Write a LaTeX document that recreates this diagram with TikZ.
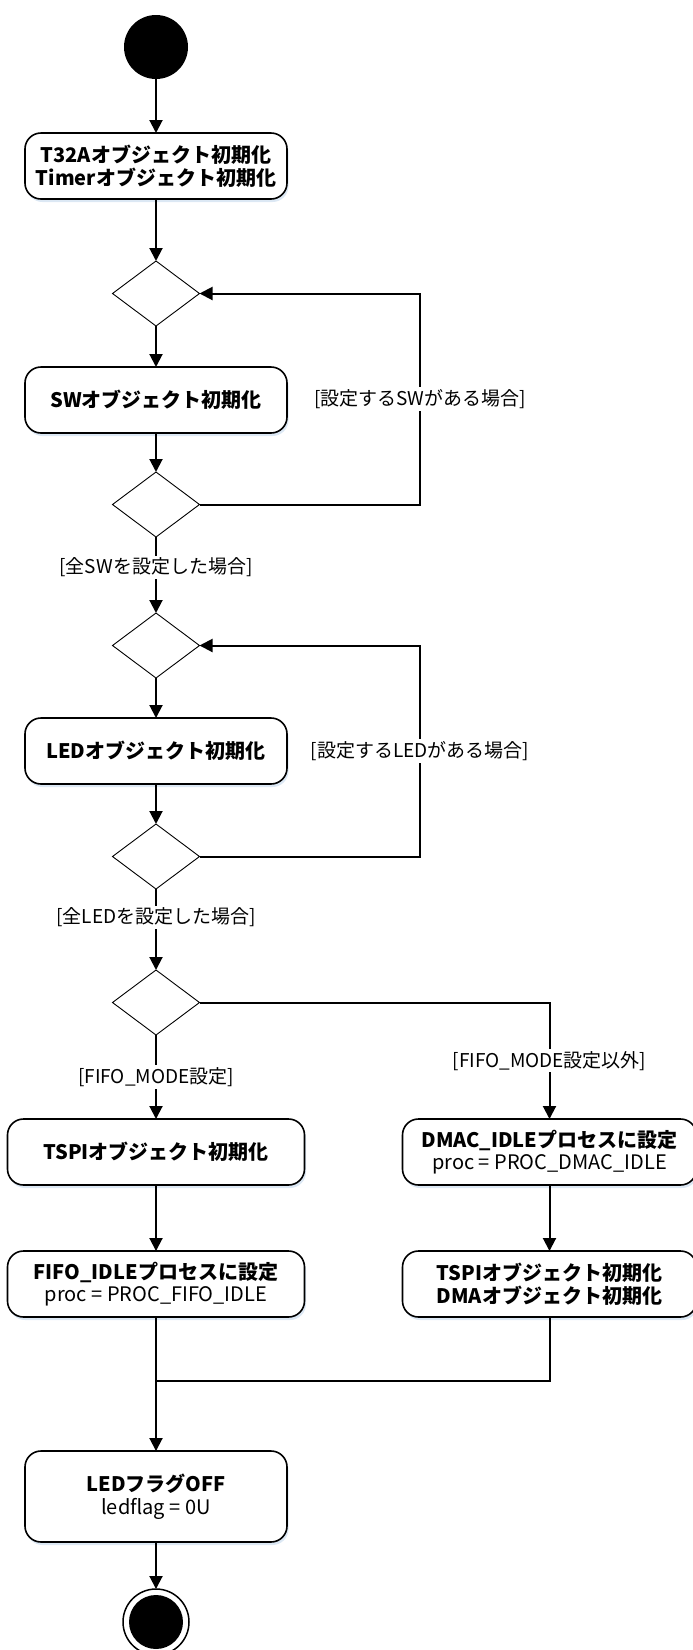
\documentclass[tikz,border=0pt]{standalone}
\usepackage{fontspec}
\setmainfont{Noto Sans CJK JP}
\usetikzlibrary{positioning,shapes.geometric,arrows.meta,shadows}

\definecolor{shadowblue}{RGB}{205,222,240}

\tikzset{
  action/.style={draw, line width=1.6pt, rounded corners=16pt, fill=white,
    minimum width=262pt, minimum height=66pt, align=center, inner sep=2pt,
    outer sep=0pt, font=\fontsize{20}{22.5}\selectfont,
    drop shadow={shadow xshift=1.5pt, shadow yshift=-3pt, fill=shadowblue, opacity=0.7}},
  branch/.style={diamond, draw, line width=0.9pt, minimum width=87pt,
    minimum height=65pt, inner sep=0pt, outer sep=0pt, fill=white},
  flow/.style={line width=2pt, -{Triangle[length=13pt,width=13pt]}},
  guard/.style={fill=white, inner sep=2pt, font=\fontsize{19}{22}\selectfont},
}

\begin{document}
\begin{tikzpicture}
      \useasboundingbox (0pt,0pt) rectangle (693pt,-1650pt);
      % Define nodes
      \node[circle, fill=black, minimum size=64pt, inner sep=0pt, outer sep=0pt] (start) at (156pt,-47pt) {};
      \node[action, below=54pt of start] (t32a) {\textbf{T32Aオブジェクト初期化}\\\textbf{Timerオブジェクト初期化}};
      \node[branch, below=62pt of t32a] (swloop) {};
      \node[action, below=41pt of swloop] (swinit) {\textbf{SWオブジェクト初期化}};
      \node[branch, below=39pt of swinit] (swnext) {};
      \node[branch, below=76pt of swnext] (ledloop) {};
      \node[action, below=40pt of ledloop] (ledinit) {\textbf{LEDオブジェクト初期化}};
      \node[branch, below=40pt of ledinit] (lednext) {};
      \node[branch, below=81pt of lednext] (mode) {};
      \node[action, minimum width=297pt, below=84pt of mode] (tspi) {\textbf{TSPIオブジェクト初期化}};
      \node[action, minimum width=297pt, below=66pt of tspi] (fifo) {\textbf{FIFO\_IDLEプロセスに設定}\\proc = PROC\_FIFO\_IDLE};
      \node[action, minimum width=294pt, right=98pt of tspi] (dmac) {\textbf{DMAC\_IDLEプロセスに設定}\\proc = PROC\_DMAC\_IDLE};
      \node[action, minimum width=294pt, below=66pt of dmac] (tspidma) {\textbf{TSPIオブジェクト初期化}\\\textbf{DMAオブジェクト初期化}};
      \node[action, minimum height=91pt, below=134pt of fifo] (ledflag) {\textbf{LEDフラグOFF}\\ledflag = 0U};
      \node[circle, draw, line width=1.5pt, minimum size=66pt, inner sep=0pt, outer sep=0pt, below=47pt of ledflag] (stop) {};
      \fill (stop.center) circle (27pt);
      \coordinate[right=220.5pt of swnext.east] (swturn);
      \coordinate[right=220.5pt of lednext.east] (ledturn);
      \coordinate[below=64pt of fifo.south] (merge);
      % Connect nodes
      \draw[flow] (start) -- (t32a);
      \draw[flow] (t32a) -- (swloop);
      \draw[flow] (swloop) -- (swinit);
      \draw[flow] (swinit) -- (swnext);
      \draw[flow] (swnext.east) -- (swturn) |- node[guard, pos=0.25] {[設定するSWがある場合]} (swloop.east);
      \draw[flow] (swnext) -- node[guard, pos=0.4] {[全SWを設定した場合]} (ledloop);
      \draw[flow] (ledloop) -- (ledinit);
      \draw[flow] (ledinit) -- (lednext);
      \draw[flow] (lednext.east) -- (ledturn) |- node[guard, pos=0.25] {[設定するLEDがある場合]} (ledloop.east);
      \draw[flow] (lednext) -- node[guard, pos=0.35] {[全LEDを設定した場合]} (mode);
      \draw[flow] (mode) -- node[guard] {[FIFO\_MODE設定]} (tspi);
      \draw[flow] (mode.east) -| node[guard, pos=0.75] {[FIFO\_MODE設定以外]} (dmac.north);
      \draw[flow] (tspi) -- (fifo);
      \draw[flow] (dmac) -- (tspidma);
      \draw[line width=2pt] (tspidma.south) |- (merge);
      \draw[flow] (fifo) -- (ledflag);
      \draw[flow] (ledflag) -- (stop);
    \end{tikzpicture}
\end{document}
